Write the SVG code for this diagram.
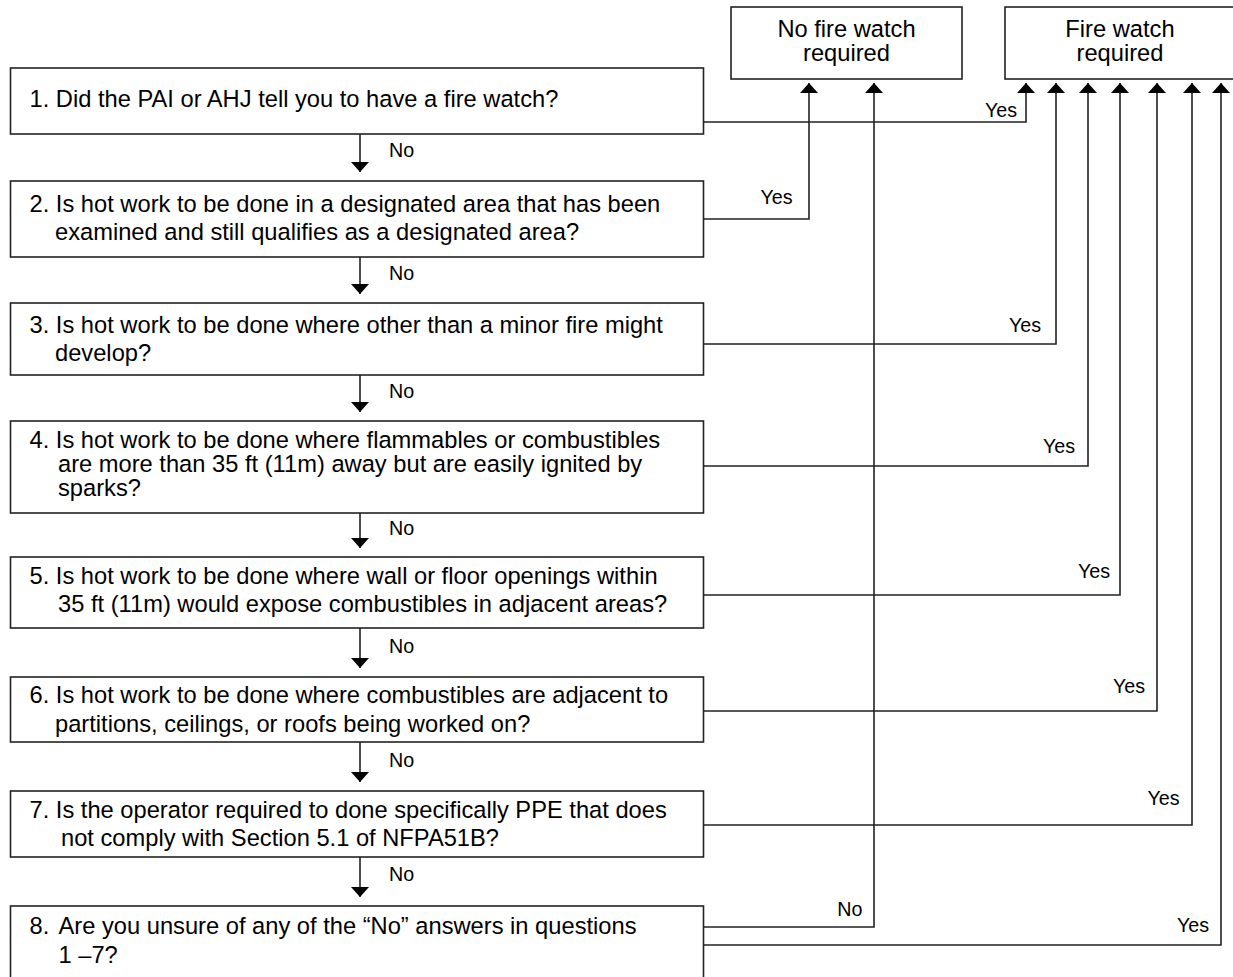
<svg xmlns="http://www.w3.org/2000/svg" width="1233" height="977" viewBox="0 0 1233 977">
<style>
.box{fill:#fff;stroke:#222;stroke-width:1.6}
.t{font-family:"Liberation Sans",Arial,sans-serif;font-size:23.7px;fill:#000}
.c{text-anchor:middle}
.lbl{font-family:"Liberation Sans",Arial,sans-serif;font-size:19.7px;fill:#000}
.e{text-anchor:end}
.con{fill:none;stroke:#222;stroke-width:1.6}
</style>
<defs>
<marker id="ah" viewBox="0 0 10 18" refX="10" refY="9" markerWidth="10" markerHeight="18" markerUnits="userSpaceOnUse" orient="auto">
<path d="M0,0 L10,9 L0,18 Z" fill="#000"/>
</marker>
</defs>
<rect width="1233" height="977" fill="#fff"/>
<g id="connectors">
<path class="con" marker-end="url(#ah)" d="M360,134 V172"/>
<path class="con" marker-end="url(#ah)" d="M360,257 V294"/>
<path class="con" marker-end="url(#ah)" d="M360,375 V412"/>
<path class="con" marker-end="url(#ah)" d="M360,513 V548"/>
<path class="con" marker-end="url(#ah)" d="M360,628 V668"/>
<path class="con" marker-end="url(#ah)" d="M360,742 V782"/>
<path class="con" marker-end="url(#ah)" d="M360,857 V897"/>
<path class="con" marker-end="url(#ah)" d="M703,122 H1026 V83"/>
<path class="con" marker-end="url(#ah)" d="M703,219 H809 V83"/>
<path class="con" marker-end="url(#ah)" d="M703,344 H1056 V83"/>
<path class="con" marker-end="url(#ah)" d="M703,466 H1088 V83"/>
<path class="con" marker-end="url(#ah)" d="M703,595 H1120 V83"/>
<path class="con" marker-end="url(#ah)" d="M703,711 H1157 V83"/>
<path class="con" marker-end="url(#ah)" d="M703,825 H1192 V83"/>
<path class="con" marker-end="url(#ah)" d="M703,927 H874 V83"/>
<path class="con" marker-end="url(#ah)" d="M703,945 H1221 V83"/>
<text class="lbl" x="389" y="157">No</text>
<text class="lbl" x="389" y="280">No</text>
<text class="lbl" x="389" y="398">No</text>
<text class="lbl" x="389" y="535">No</text>
<text class="lbl" x="389" y="653">No</text>
<text class="lbl" x="389" y="767">No</text>
<text class="lbl" x="389" y="881">No</text>
<text class="lbl e" x="1017" y="117">Yes</text>
<text class="lbl e" x="792.5" y="204">Yes</text>
<text class="lbl e" x="1041" y="332">Yes</text>
<text class="lbl e" x="1075" y="453">Yes</text>
<text class="lbl e" x="1110" y="578">Yes</text>
<text class="lbl e" x="1145" y="693">Yes</text>
<text class="lbl e" x="1179.5" y="805">Yes</text>
<text class="lbl e" x="862.5" y="916">No</text>
<text class="lbl e" x="1209" y="932">Yes</text>
</g>
<g id="nofire">
<rect class="box" x="731" y="7" width="231" height="72"/>
<text class="t c" x="846.5" y="37">No fire watch</text>
<text class="t c" x="846.5" y="61">required</text>
</g>
<g id="fire">
<rect class="box" x="1005" y="7" width="230" height="72"/>
<text class="t c" x="1120" y="37">Fire watch</text>
<text class="t c" x="1120" y="61">required</text>
</g>
<g id="q1">
<rect class="box" x="10.5" y="68" width="693" height="66"/>
<text class="t" x="29.5" y="107">1. Did the PAI or AHJ tell you to have a fire watch?</text>
</g>
<g id="q2">
<rect class="box" x="10.5" y="181" width="693" height="76"/>
<text class="t" x="29.5" y="212">2. Is hot work to be done in a designated area that has been</text>
<text class="t" x="55" y="240">examined and still qualifies as a designated area?</text>
</g>
<g id="q3">
<rect class="box" x="10.5" y="303" width="693" height="72"/>
<text class="t" x="29.5" y="333">3. Is hot work to be done where other than a minor fire might</text>
<text class="t" x="55" y="361">develop?</text>
</g>
<g id="q4">
<rect class="box" x="10.5" y="421" width="693" height="92"/>
<text class="t" x="29.5" y="448">4. Is hot work to be done where flammables or combustibles</text>
<text class="t" x="58" y="472">are more than 35 ft (11m) away but are easily ignited by</text>
<text class="t" x="58" y="496">sparks?</text>
</g>
<g id="q5">
<rect class="box" x="10.5" y="557" width="693" height="71"/>
<text class="t" x="29.5" y="584">5. Is hot work to be done where wall or floor openings within</text>
<text class="t" x="58" y="612">35 ft (11m) would expose combustibles in adjacent areas?</text>
</g>
<g id="q6">
<rect class="box" x="10.5" y="677" width="693" height="65"/>
<text class="t" x="29.5" y="703">6. Is hot work to be done where combustibles are adjacent to</text>
<text class="t" x="55" y="732">partitions, ceilings, or roofs being worked on?</text>
</g>
<g id="q7">
<rect class="box" x="10.5" y="791" width="693" height="66"/>
<text class="t" x="29.5" y="818">7. Is the operator required to done specifically PPE that does</text>
<text class="t" x="61" y="846">not comply with Section 5.1 of NFPA51B?</text>
</g>
<g id="q8">
<rect class="box" x="10.5" y="906" width="693" height="80"/>
<text class="t" x="29.5" y="934">8.<tspan x="58.5">Are you unsure of any of the “No” answers in questions</tspan></text>
<text class="t" x="58.5" y="963">1 –7?</text>
</g>
</svg>
